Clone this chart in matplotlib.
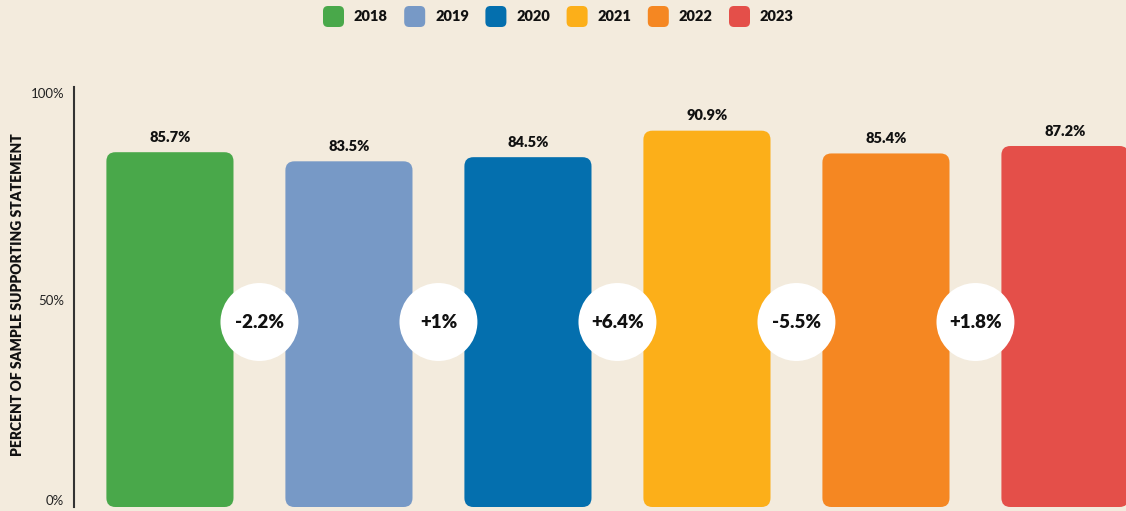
import numpy as np
import matplotlib
matplotlib.use('Agg')
import matplotlib.pyplot as plt
from matplotlib.patches import FancyBboxPatch

# Dados do gráfico
anos = ['2018', '2019', '2020', '2021', '2022', '2023']
percentuais = [85.7, 83.5, 84.5, 90.9, 85.4, 87.2]
cores = ['#49a84a', '#7799c6', '#046fae', '#fcaf19', '#f58722', '#e44f49']
ticks_y = [0, 50, 100]
rotulos_y = ['0%', '50%', '100%']

plt.rcParams['font.family'] = ['Lato', 'DejaVu Sans']
fundo = '#f3ebdd'

fig = plt.figure(figsize=(11.26, 5.11), dpi=100, facecolor=fundo)
W, H = 1126, 511
# eixo: esquerda em x=74px, 0% em y=507px, topo da linha em y=87px
ax = fig.add_axes([74 / W, 4 / H, 1 - 74 / W, (507 - 87) / H])
ax.set_facecolor(fundo)
ax.set_xlim(-0.536, 5.341)
ax.set_ylim(0, 101.45)

px_x = 179.0  # pixels por unidade x
px_y = 4.14   # pixels por unidade y
largura = 0.71
raio = 9 / px_x

x = np.arange(len(anos))
for xi, v, c in zip(x, percentuais, cores):
    barra = FancyBboxPatch((xi - largura / 2, 0), largura, v,
                           boxstyle=f"round,pad=0,rounding_size={raio}",
                           mutation_aspect=px_x / px_y,
                           facecolor=c, edgecolor='none', zorder=2)
    ax.add_patch(barra)
    ax.annotate(f'{v:.1f}%', (xi, v), xytext=(0, 6), textcoords='offset points',
                ha='center', va='bottom', fontsize=10.5, fontweight='heavy',
                color='#111111', zorder=3)

# Círculos com a variação entre anos
variacoes = np.round(np.diff(percentuais), 1)
y_circ = (507 - 322) / px_y
ax.scatter(x[:-1] + 0.5, [y_circ] * len(variacoes), s=3150, color='white',
           edgecolors='none', zorder=4)
for xi, d in zip(x[:-1] + 0.5, variacoes):
    ax.text(xi, y_circ, f'{d:+g}%', ha='center', va='center', fontsize=13.5,
            fontweight='heavy', color='#111111', zorder=5)

ax.set_xticks([])
ax.set_yticks(ticks_y)
ax.set_yticklabels(rotulos_y, fontsize=9.5, color='#222222')
ax.get_yticklabels()[0].set_va('bottom')
ax.tick_params(axis='y', length=0, pad=7)
for lado in ['top', 'right', 'bottom']:
    ax.spines[lado].set_visible(False)
ax.spines['left'].set_color('#333333')
ax.spines['left'].set_linewidth(1.5)

fig.text(18 / W, 1 - 295 / H, 'PERCENT OF SAMPLE SUPPORTING STATEMENT',
         rotation=90, ha='center', va='center', fontsize=10,
         fontweight='heavy', color='#111111')

# Legenda manual no topo
x0 = 323
for i, (ano, c) in enumerate(zip(anos, cores)):
    xl = x0 + i * 81.2
    quad = FancyBboxPatch((xl / W, 1 - 27 / H), 21 / W, 21 / H,
                          boxstyle=f"round,pad=0,rounding_size={5 / W}",
                          mutation_aspect=W / H, transform=fig.transFigure,
                          facecolor=c, edgecolor='none')
    fig.patches.append(quad)
    fig.text((xl + 31) / W, 1 - 16.5 / H, ano, ha='left', va='center',
             fontsize=10.5, fontweight='heavy', color='#111111')

fig.savefig('out.png', dpi=100, facecolor=fundo)
